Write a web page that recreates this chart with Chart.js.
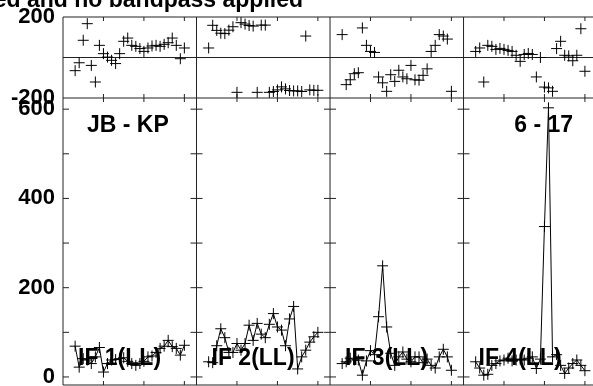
<!DOCTYPE html>
<html>
<head>
<meta charset="utf-8">
<script src="https://cdn.jsdelivr.net/npm/chart.js@4/dist/chart.umd.min.js"></script>
<style>
  body { margin: 0; background: #fff; }
  canvas { display: block; }
</style>
</head>
<body>
<canvas id="myChart" width="593" height="386"></canvas>
<script>
const ctx = document.getElementById('myChart');

const channels = [3, 4, 5, 6, 7, 8, 9, 10, 11, 12, 13, 14, 15, 16, 17, 18, 19, 20, 21, 22, 23, 24, 25, 26, 27, 28, 29, 30]
const ifLabels = ['IF 1(LL)', 'IF 2(LL)', 'IF 3(LL)', 'IF 4(LL)']

// phase in degrees, one list per IF
const phaseIF1 = [-65, -26, 85, 167, -39, -121, 60, 19, 2, -14, -30, 19, 80, 96, 60, 55, 44, 30, 47, 57, 60, 55, 65, 73, 96, 60, -6, 47]
const phaseIF2 = [47, 159, 134, 120, 118, 135, 152, -172, 172, 165, 158, 155, -172, 160, 160, -172, -168, -160, -145, -155, -163, -165, -165, -168, 106, -160, -162, -162]
const phaseIF3 = [113, -134, -110, -80, -75, 146, 60, 30, 25, -96, -125, -167, -85, -118, -63, -96, -105, -39, -110, -112, -88, -56, 30, 60, 113, 106, 91, -167]
const phaseIF4 = [30, 47, -121, 60, 55, 40, 45, 40, 35, 30, 11, -19, 15, 20, 15, -96, 0, -146, -150, -167, 44, 80, 11, 8, -16, 11, 142, -68]

// amplitude, one list per IF
const ampIF1 = [69, 22, 41, 38, 30, 45, 66, 11, 30, 38, 39, 41, 43, 35, 30, 26, 30, 35, 45, 47, 55, 64, 69, 82, 68, 64, 49, 71]
const ampIF2 = [34, 32, 70, 108, 88, 55, 55, 75, 60, 75, 116, 82, 120, 96, 88, 118, 142, 112, 105, 70, 130, 158, 18, 45, 60, 78, 90, 100]
const ampIF3 = [30, 34, 42, 38, 38, 4, 36, 59, 50, 135, 249, 112, 53, 26, 45, 56, 40, 34, 45, 45, 32, 40, 26, 20, 45, 62, 45, 15]
const ampIF4 = [34, 20, 4, 6, 26, 30, 36, 38, 42, 36, 38, 40, 38, 42, 45, 19, 40, 337, 603, 45, 50, 26, 8, 20, 30, 38, 26, 14]

const phaseTicks = [-200, 200]
const phaseLines = [200, 0, -200]
const ampTicks = [0, 200, 400, 600]
const ampMinorTicks = [0, 100, 200, 300, 400, 500, 600]
const chanTicks = [10, 20, 30]

const titleText = 'ed and no bandpass applied'
const baselineText = 'JB - KP'
const timeText = '6 - 17'

const panelWidth = 33 // channel units per IF box
const phases = [phaseIF1, phaseIF2, phaseIF3, phaseIF4]
const amps = [ampIF1, ampIF2, ampIF3, ampIF4]

const textFont = 'bold 23px "Liberation Sans", Arial, sans-serif'
const tickFont = { family: '"Liberation Sans", Arial, sans-serif', size: 22, weight: 'bold' }

let datasets = []
for (let p = 0; p < 4; p++) {
  datasets.push({
    yAxisID: 'yP',
    showLine: false,
    data: channels.map((c, i) => ({ x: p * panelWidth + c, y: phases[p][i] })),
    pointStyle: 'cross',
    pointRadius: 5.5,
    pointBorderColor: '#000',
    pointBorderWidth: 1
  })
  datasets.push({
    yAxisID: 'yA',
    showLine: true,
    data: channels.map((c, i) => ({ x: p * panelWidth + c, y: amps[p][i] })),
    borderColor: '#000',
    borderWidth: 1,
    pointStyle: 'cross',
    pointRadius: 5.5,
    pointBorderColor: '#000',
    pointBorderWidth: 1
  })
}

function fitLeft(axis) { // fixed label column, no extra padding for the labels
  axis.width = 63
  axis.paddingTop = 0
  axis.paddingBottom = 0
}

const framePlugin = {
  id: 'frame',
  beforeDatasetsDraw(chart) {
    const c = chart.ctx
    const x = chart.scales.x
    const yP = chart.scales.yP
    const yA = chart.scales.yA
    const top = yP.getPixelForValue(200)
    const mid = yP.getPixelForValue(-200)
    const bottom = yA.bottom
    c.save()
    c.strokeStyle = '#222'
    c.lineWidth = 1
    c.beginPath()
    phaseLines.forEach(v => {
      const py = yP.getPixelForValue(v)
      c.moveTo(x.left, py)
      c.lineTo(x.right, py)
    })
    c.moveTo(x.left, bottom)
    c.lineTo(x.right, bottom)
    for (let p = 0; p < 4; p++) {
      const px = x.getPixelForValue(p * panelWidth)
      c.moveTo(px, top)
      c.lineTo(px, bottom)
      ampMinorTicks.forEach(v => {
        const py = yA.getPixelForValue(v)
        c.moveTo(p == 0 ? px : px - 6, py)
        c.lineTo(px + 6, py)
      })
      chanTicks.forEach(t => {
        const tx = x.getPixelForValue(p * panelWidth + t)
        c.moveTo(tx, top)
        c.lineTo(tx, top + 4)
        c.moveTo(tx, mid - 4)
        c.lineTo(tx, mid + 4)
        c.moveTo(tx, bottom - 4)
        c.lineTo(tx, bottom)
      })
    }
    c.stroke()
    c.restore()
  },
  afterDatasetsDraw(chart) {
    const c = chart.ctx
    const x = chart.scales.x
    c.save()
    c.fillStyle = '#000'
    c.font = textFont
    c.textBaseline = 'alphabetic'
    c.textAlign = 'right'
    c.fillText(titleText, 303, 7)
    c.textAlign = 'left'
    c.fillText(baselineText, x.left + 24, 132)
    c.textAlign = 'right'
    c.fillText(timeText, x.getPixelForValue(4 * panelWidth) - 24, 132)
    c.textAlign = 'left'
    for (let p = 0; p < 4; p++) {
      c.fillText(ifLabels[p], x.getPixelForValue(p * panelWidth) + 15, 365)
    }
    c.restore()
  }
}

const mychart = new Chart(ctx, {
  type: 'scatter',
  data: { datasets: datasets },
  options: {
    responsive: false,
    animation: false,
    events: [],
    layout: { autoPadding: false, padding: { top: 17, bottom: 1, left: 0, right: 0 } },
    plugins: { legend: { display: false }, tooltip: { enabled: false } },
    scales: {
      x: {
        type: 'linear',
        display: false,
        min: 0,
        max: 131
      },
      yA: {
        type: 'linear',
        position: 'left',
        stack: 'panels',
        stackWeight: 287,
        min: -18,
        max: 625,
        grid: { display: false, drawTicks: false },
        border: { display: false },
        afterBuildTicks: axis => { axis.ticks = ampTicks.map(v => ({ value: v })) },
        afterFit: fitLeft,
        ticks: { padding: 8, autoSkip: false, color: '#000', font: tickFont }
      },
      yP: {
        type: 'linear',
        position: 'left',
        stack: 'panels',
        stackWeight: 81,
        min: -200,
        max: 200,
        grid: { display: false, drawTicks: false },
        border: { display: false },
        afterBuildTicks: axis => { axis.ticks = phaseTicks.map(v => ({ value: v })) },
        afterFit: fitLeft,
        ticks: { padding: 8, autoSkip: false, color: '#000', font: tickFont }
      }
    }
  },
  plugins: [framePlugin]
});
</script>
</body>
</html>
